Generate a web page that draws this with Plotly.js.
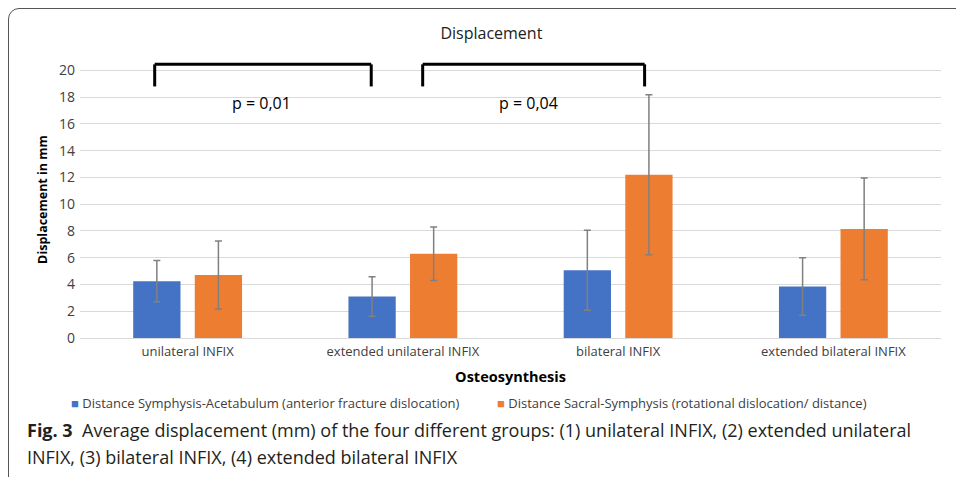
<!DOCTYPE html>
<html>
<head>
<meta charset="utf-8">
<script src="https://cdn.plot.ly/plotly-3.0.1.min.js"></script>
<style>
  html, body { margin: 0; padding: 0; background: #fff; }
  #wrap { position: relative; width: 956px; height: 477px; overflow: hidden; }
  #chart { position: absolute; left: 0; top: 0; width: 956px; height: 477px; }
  #frame { position: absolute; left: 8px; top: 8px; width: 980px; height: 500px;
           border: 1px solid #555; border-top-left-radius: 11px; pointer-events: none; }
</style>
</head>
<body>
<div id="wrap">
  <div id="chart"></div>
  <div id="frame"></div>
</div>
<script>
// ---- data ----
const categories = ["unilateral INFIX", "extended unilateral INFIX", "bilateral INFIX", "extended bilateral INFIX"];
const seriesNames = ["Distance Symphysis-Acetabulum (anterior fracture dislocation)",
                     "Distance Sacral-Symphysis (rotational dislocation/ distance)"];
const acetabulumMean = [4.25, 3.1, 5.07, 3.85];
const acetabulumSD   = [1.55, 1.47, 2.99, 2.15];
const sacralMean     = [4.7, 6.3, 12.2, 8.15];
const sacralSD       = [2.54, 2.0, 5.98, 3.8];
const pLabels = ["p = 0,01", "p = 0,04"];
const yTicks = [0, 2, 4, 6, 8, 10, 12, 14, 16, 18, 20];
const captionLines = [
  "<b>Fig. 3</b>  Average displacement (mm) of the four different groups: (1) unilateral INFIX, (2) extended unilateral",
  "INFIX, (3) bilateral INFIX, (4) extended bilateral INFIX"
];

// ---- styling ----
const colors = ["#4472C4", "#ED7D31"];
const errColor = "#808080";
const font = "Open Sans, Noto Sans, sans-serif";

const traces = [
  { type: "bar", name: seriesNames[0], x: categories, y: acetabulumMean,
    marker: { color: colors[0] }, showlegend: false,
    error_y: { type: "data", array: acetabulumSD, visible: true, color: errColor, thickness: 1.5, width: 3.5 } },
  { type: "bar", name: seriesNames[1], x: categories, y: sacralMean,
    marker: { color: colors[1] }, showlegend: false,
    error_y: { type: "data", array: sacralSD, visible: true, color: errColor, thickness: 1.5, width: 3.5 } }
];

// significance brackets (category index based)
function bracket(xa, xb, yTop, yLeg) {
  const l = { color: "#000", width: 3 };
  return [
    { type: "line", xref: "x", yref: "y", x0: xa, x1: xb, y0: yTop, y1: yTop, line: l },
    { type: "line", xref: "x", yref: "y", x0: xa, x1: xa, y0: yTop, y1: yLeg, line: l },
    { type: "line", xref: "x", yref: "y", x0: xb, x1: xb, y0: yTop, y1: yLeg, line: l }
  ];
}
const shapes = [].concat(bracket(0 - 0.153, 1 - 0.147, 20.45, 18.8),
                         bracket(1 + 0.092, 2 + 0.123, 20.45, 18.8));

const annotations = [
  { xref: "x", yref: "y", x: 0.344, y: 17.55, text: pLabels[0], showarrow: false,
    font: { family: font, size: 16, color: "#000" } },
  { xref: "x", yref: "y", x: 1.584, y: 17.55, text: pLabels[1], showarrow: false,
    font: { family: font, size: 16, color: "#000" } },
  // legend entries
  { xref: "paper", yref: "paper", x: -0.0125, y: -0.2336, xanchor: "left", yanchor: "middle", showarrow: false,
    text: '<span style="color:' + colors[0] + '">■</span> ' + seriesNames[0],
    font: { family: font, size: 13, color: "#404040" } },
  { xref: "paper", yref: "paper", x: 0.4825, y: -0.2336, xanchor: "left", yanchor: "middle", showarrow: false,
    text: '<span style="color:' + colors[1] + '">■</span> ' + seriesNames[1],
    font: { family: font, size: 13, color: "#404040" } },
  // caption
  { xref: "paper", yref: "paper", x: -0.064, y: -0.331, xanchor: "left", yanchor: "middle", align: "left",
    showarrow: false, text: captionLines[0], font: { family: font, size: 18, color: "#231f20" } },
  { xref: "paper", yref: "paper", x: -0.064, y: -0.428, xanchor: "left", yanchor: "middle", align: "left",
    showarrow: false, text: captionLines[1], font: { family: font, size: 18, color: "#231f20" } }
];

const layout = {
  width: 956, height: 477,
  margin: { l: 80, r: 15, t: 61, b: 139 },
  paper_bgcolor: "#fff", plot_bgcolor: "#fff",
  font: { family: font, size: 12, color: "#595959" },
  title: { text: "Displacement", x: 0.514, xanchor: "center", y: 0.929, yanchor: "middle",
           font: { family: font, size: 16, color: "#222" } },
  barmode: "group", bargap: 0.428, bargroupgap: 0.232,
  showlegend: false,
  xaxis: { type: "category", showgrid: false, zeroline: false, showline: false, ticks: "",
           ticklabelstandoff: 4,
           tickfont: { family: font, size: 13, color: "#404040" },
           title: { text: "<b>Osteosynthesis</b>", standoff: 12,
                    font: { family: font, size: 14.5, color: "#000" } } },
  yaxis: { range: [0, 20.7], tickvals: yTicks, showgrid: true, gridcolor: "#d9d9d9", gridwidth: 1,
           zeroline: true, zerolinecolor: "#d9d9d9", showline: false, ticks: "",
           ticklabelstandoff: 4,
           tickfont: { family: font, size: 14, color: "#404040" },
           title: { text: "<b>Displacement in mm</b>", standoff: 8,
                    font: { family: font, size: 12.5, color: "#000" } } },
  shapes: shapes,
  annotations: annotations
};

Plotly.newPlot("chart", traces, layout, { displayModeBar: false, staticPlot: true });
</script>
</body>
</html>
